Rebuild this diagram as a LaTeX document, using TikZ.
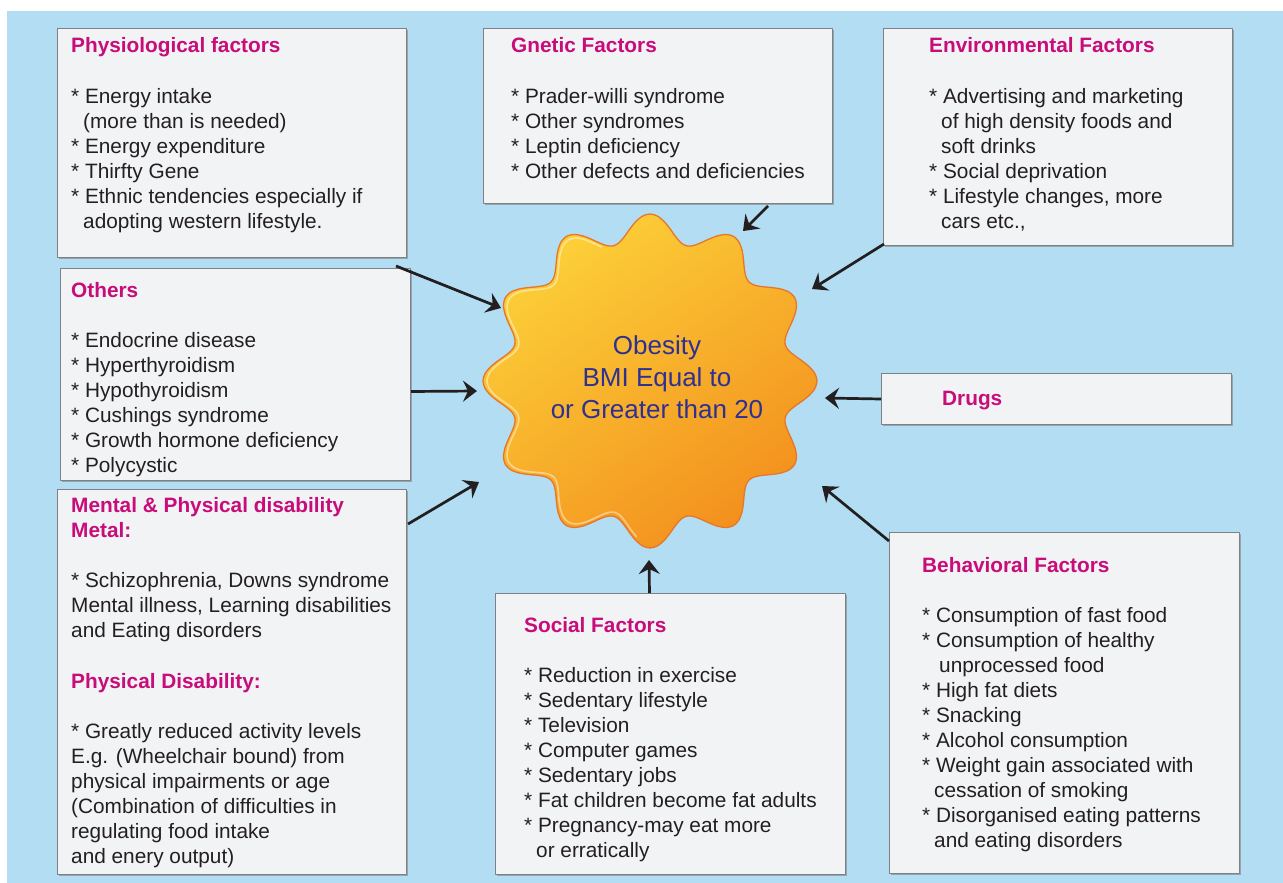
\documentclass[tikz,border=0pt]{standalone}
\usepackage{fontspec}
\setmainfont{Liberation Sans}
\usetikzlibrary{arrows.meta,shadows}
\definecolor{skyback}{RGB}{178,221,242}
\definecolor{boxfill}{RGB}{242,243,245}
\definecolor{boxline}{RGB}{125,128,132}
\definecolor{headcol}{RGB}{200,12,122}
\definecolor{itemcol}{RGB}{35,31,32}
\definecolor{obesitytext}{RGB}{46,49,146}
\definecolor{staryellow}{RGB}{252,208,56}
\definecolor{starmid}{RGB}{247,168,36}
\definecolor{starorange}{RGB}{243,144,30}
\definecolor{starrim}{RGB}{232,118,40}
\begin{document}
\begin{tikzpicture}[x=1pt,y=-1pt,line join=round,line cap=round,font=\fontsize{20.8}{25}\selectfont]
	\tikzset{factor/.style={draw=boxline,fill=boxfill,line width=1pt,inner sep=0pt,anchor=north west,
			drop shadow={shadow xshift=1.5pt,shadow yshift=-1.5pt,fill=black!50,opacity=0.6}}}
	\tikzset{head/.style={anchor=north west,inner sep=0pt,text=headcol,align=left,font=\fontsize{20.8}{25}\selectfont\bfseries,execute at begin node={\rule{0pt}{15pt}}}}
	\tikzset{items/.style={anchor=north west,inner sep=0pt,text=itemcol,align=left,execute at begin node={\rule{0pt}{15pt}}}}
	\tikzset{feed/.style={draw=itemcol,line width=2.7pt,line cap=butt,-{Stealth[length=14pt,width=21pt,inset=5pt]}}}
	\def \rmid{153.5} \def \ramp{13.5}
	\def \ind{\hspace*{12pt}}
	\useasboundingbox (0,0) rectangle (1283,883);
	\fill[skyback] (7,11) rectangle (1283,883);
	% factor boxes
	\node[factor,minimum width=349pt,minimum height=229pt] (phys) at (57,28) {};
	\node[factor,minimum width=349pt,minimum height=175pt] (genetic) at (483,28) {};
	\node[factor,minimum width=349pt,minimum height=217pt] (environ) at (883,28) {};
	\node[factor,minimum width=350pt,minimum height=212pt] (others) at (60,268) {};
	\node[factor,minimum width=350pt,minimum height=51pt] (drugs) at (881,373) {};
	\node[factor,minimum width=349pt,minimum height=385pt] (mental) at (57,489) {};
	\node[factor,minimum width=350pt,minimum height=281pt] (social) at (495,593) {};
	\node[factor,minimum width=350pt,minimum height=341pt] (behave) at (889,532) {};
	% texts (first baseline minus 15)
	\node[head] (physHead) at (71,37) {Physiological factors};
	\node[items] (physList) at (71,88) {* Energy intake\\\ind(more than is needed)\\* Energy expenditure\\* Thirfty Gene\\* Ethnic tendencies especially if\\\ind adopting western lifestyle.};
	\node[head] (geneticHead) at (511,37) {Gnetic Factors};
	\node[items] (geneticList) at (511,88) {* Prader-willi syndrome\\* Other syndromes\\* Leptin deficiency\\* Other defects and deficiencies};
	\node[head] (environHead) at (929,37) {Environmental Factors};
	\node[items] (environList) at (929,88) {* Advertising and marketing\\\ind of high density foods and\\\ind soft drinks\\* Social deprivation\\* Lifestyle changes, more\\\ind cars etc.,};
	\node[head] (othersHead) at (71,282) {Others};
	\node[items] (othersList) at (71,332) {* Endocrine disease\\* Hyperthyroidism\\* Hypothyroidism\\* Cushings syndrome\\* Growth hormone deficiency\\* Polycystic};
	\node[head] (drugsHead) at (942,390) {Drugs};
	\node[head] (mentalHead) at (71,497) {Mental \& Physical disability\\Metal:};
	\node[items] (mentalList) at (71,572) {* Schizophrenia, Downs syndrome\\Mental illness, Learning disabilities\\and Eating disorders};
	\node[head] (physicalHead) at (71,673) {Physical Disability:};
	\node[items] (physicalList) at (71,723) {* Greatly reduced activity levels\\E.g. (Wheelchair bound) from\\physical impairments or age\\(Combination of difficulties in\\regulating food intake\\and enery output)};
	\node[head] (socialHead) at (524,617) {Social Factors};
	\node[items] (socialList) at (524,667) {* Reduction in exercise\\* Sedentary lifestyle\\* Television\\* Computer games\\* Sedentary jobs\\* Fat children become fat adults\\* Pregnancy-may eat more\\\ind or erratically};
	\node[head] (behaveHead) at (922,557) {Behavioral Factors};
	\node[items] (behaveList) at (922,607) {* Consumption of fast food\\* Consumption of healthy\\\hspace*{17pt}unprocessed food\\* High fat diets\\* Snacking\\* Alcohol consumption\\* Weight gain associated with\\\ind cessation of smoking\\* Disorganised eating patterns\\\ind and eating disorders};
	% obesity star
	\begin{scope}[shift={(650,381)}]
		\shade[top color=staryellow,middle color=starmid,bottom color=starorange,shading angle=35,draw=starrim,line width=1.3pt]
		plot[domain=0:357.5,samples=144,smooth cycle,variable=\t] (\t:{\rmid+\ramp*cos(12*\t)});
		\draw[white,opacity=0.45,line width=1.6pt] plot[domain=95:250,samples=63,smooth,variable=\t] (\t:{\rmid-4+\ramp*cos(12*\t)});
	\end{scope}
	\node[text=obesitytext,align=center,font=\fontsize{26}{32}\selectfont] (obesity) at (657,377) {Obesity\\BMI Equal to\\or Greater than 20};
	% arrows
	\coordinate (physTip) at (501,308);
	\coordinate (geneticTip) at (743,231);
	\coordinate (environTip) at (812,289);
	\coordinate (othersTip) at (477,391);
	\coordinate (drugsTip) at (825,398);
	\coordinate (mentalTip) at (479,482);
	\coordinate (socialTip) at (649,560);
	\coordinate (behaveTip) at (822,486);
	\draw[feed] ([shift={(-11,8)}]phys.south east) -- (physTip);
	\draw[feed] ([shift={(-65,2)}]genetic.south east) -- (geneticTip);
	\draw[feed] ([shift={(1,-2)}]environ.south west) -- (environTip);
	\draw[feed] ([shift={(0,17)}]others.east) -- (othersTip);
	\draw[feed] (drugs.west) -- (drugsTip);
	\draw[feed] ([shift={(1,35)}]mental.north east) -- (mentalTip);
	\draw[feed] ([shift={(-21,0)}]social.north) -- (socialTip);
	\draw[feed] ([shift={(0,9)}]behave.north west) -- (behaveTip);
\end{tikzpicture}
\end{document}
